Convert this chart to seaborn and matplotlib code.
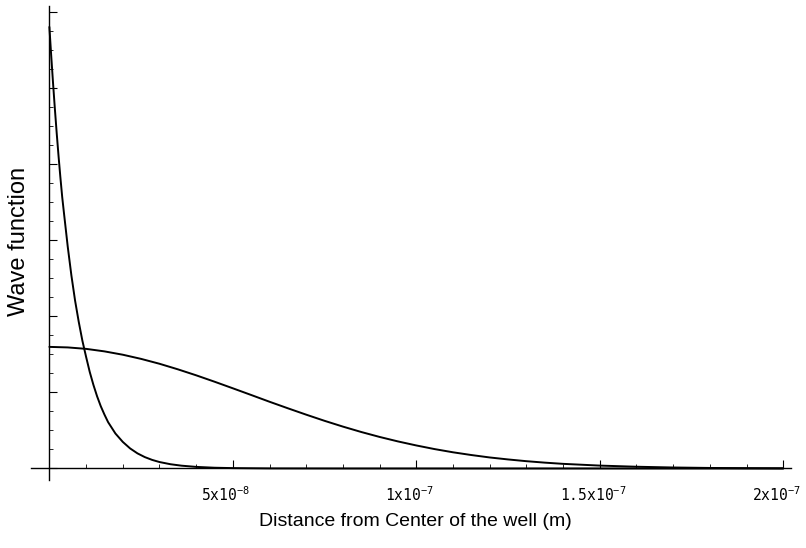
import matplotlib
matplotlib.use("Agg")
import matplotlib.pyplot as plt
import matplotlib.transforms as mtransforms
import seaborn as sns
import pandas as pd
from matplotlib.ticker import MultipleLocator, FixedLocator, FixedFormatter

# Curve 1: sharply decaying wave function (x in nm, arbitrary units)
x1_nm = [0, 0.5, 1, 1.5, 2, 2.5, 3, 3.5, 4, 5, 6, 7, 8, 9, 10, 11, 12, 13,
         14, 15, 16, 18, 20, 22, 24, 26, 28, 30, 33, 36, 40, 45, 50, 60, 80,
         120, 160, 200]
y1 = [5.81, 5.43, 5.07, 4.73, 4.41, 4.11, 3.83, 3.57, 3.35, 2.92, 2.54,
      2.21, 1.93, 1.68, 1.47, 1.27, 1.10, 0.95, 0.82, 0.71, 0.61, 0.46,
      0.35, 0.264, 0.199, 0.150, 0.113, 0.085, 0.056, 0.037, 0.021, 0.010,
      0.005, 0.001, 0.0, 0.0, 0.0, 0.0]

# Curve 2: broad Gaussian-like wave function
x2_nm = [0, 5, 10, 15, 20, 25, 30, 35, 40, 45, 50, 55, 60, 65, 70, 75, 80,
         85, 90, 95, 100, 105, 110, 115, 120, 125, 130, 135, 140, 150, 160,
         170, 180, 190, 200]
y2 = [1.600, 1.593, 1.574, 1.541, 1.497, 1.442, 1.378, 1.305, 1.226, 1.142,
      1.055, 0.967, 0.878, 0.792, 0.708, 0.627, 0.551, 0.480, 0.415, 0.356,
      0.303, 0.255, 0.213, 0.177, 0.145, 0.119, 0.096, 0.077, 0.061, 0.038,
      0.023, 0.013, 0.007, 0.004, 0.002]

xtick_vals = [5e-8, 1e-7, 1.5e-7, 2e-7]
xtick_labels = [r"$\mathregular{5x10^{-8}}$", r"$\mathregular{1x10^{-7}}$",
                r"$\mathregular{1.5x10^{-7}}$", r"$\mathregular{2x10^{-7}}$"]

df1 = pd.DataFrame({"x": [v * 1e-9 for v in x1_nm], "y": y1})
df2 = pd.DataFrame({"x": [v * 1e-9 for v in x2_nm], "y": y2})

sns.set_style("white")
plt.rcParams["font.family"] = ["Liberation Sans", "DejaVu Sans"]
plt.rcParams["text.color"] = "black"

fig = plt.figure(figsize=(8.06, 5.48), dpi=100)
ax = fig.add_axes([0.0385, 0.1243, 0.9424, 0.864])

sns.lineplot(data=df1, x="x", y="y", ax=ax, color="black", linewidth=1.4)
sns.lineplot(data=df2, x="x", y="y", ax=ax, color="black", linewidth=1.4)

ax.set_xlim(-5e-9, 2.02e-7)
ax.set_ylim(-0.15, 6.08)

for s in ["top", "right"]:
    ax.spines[s].set_visible(False)
ax.spines["left"].set_position(("data", 0))
ax.spines["bottom"].set_position(("data", 0))
for s in ["left", "bottom"]:
    ax.spines[s].set_linewidth(1.0)
    ax.spines[s].set_color("black")

ax.xaxis.set_major_locator(FixedLocator(xtick_vals))
ax.xaxis.set_major_formatter(FixedFormatter(xtick_labels))
ax.xaxis.set_minor_locator(MultipleLocator(1e-8))
ax.yaxis.set_major_locator(MultipleLocator(1.0))
ax.yaxis.set_minor_locator(MultipleLocator(0.25))
ax.yaxis.set_major_formatter(plt.NullFormatter())

ax.tick_params(axis="both", which="both", bottom=True, left=True,
               direction="in", color="black", labelcolor="black")
ax.tick_params(axis="both", which="major", length=6, width=0.8)
ax.tick_params(axis="both", which="minor", length=3, width=0.6)
ax.tick_params(axis="x", which="major", pad=12)
offset = mtransforms.ScaledTranslation(-7 / 100, 0, fig.dpi_scale_trans)
for lab in ax.get_xticklabels():
    lab.set_fontfamily("DejaVu Sans Mono")
    lab.set_fontsize(10.5)
    lab.set_transform(lab.get_transform() + offset)

ax.set_xlabel("")
ax.set_ylabel("")
fig.text(415 / 806, 1 - 522 / 548, "Distance from Center of the well (m)",
         ha="center", va="center", fontsize=14, color="black")
fig.text(19 / 806, 1 - 241 / 548, "Wave function", rotation=90,
         ha="center", va="center", fontsize=17, color="black")

fig.savefig("out.png", dpi=100)
